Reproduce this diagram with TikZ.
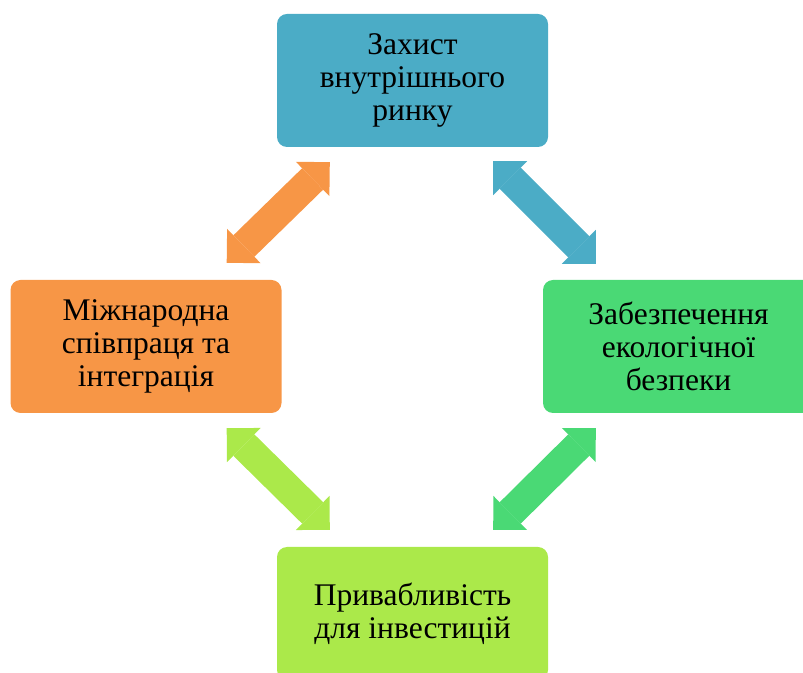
\documentclass[tikz,border=0pt]{standalone}
\usepackage{fontspec}
\setmainfont{Liberation Serif}
\usepackage{xcolor}
\usetikzlibrary{arrows.meta, positioning, calc}
\definecolor{tealC}{HTML}{4BACC6}
\definecolor{orangeC}{HTML}{F79646}
\definecolor{greenC}{HTML}{4AD975}
\definecolor{limeC}{HTML}{ABE94A}
\tikzset{
    block/.style={
        rectangle,
        rounded corners=10pt,
        minimum width=271pt,
        minimum height=133pt,
        align=center,
        inner sep=2pt,
        font=\fontsize{31.5}{33}\selectfont
    },
    dblarrow/.style={
        line width=30pt,
        {Triangle[width=48pt,length=24pt,line width=0pt]}-{Triangle[width=48pt,length=24pt,line width=0pt]}
    }
}
\begin{document}
\begin{tikzpicture}[x=1pt, y=1pt]
\useasboundingbox (0,0) rectangle (803,672);

% Boxes
\node[block, fill=tealC] (market) at (412.5,591.5) {Захист\\внутрішнього\\ринку};
\node[block, fill=orangeC] (coop) at (146,325.5) {Міжнародна\\співпраця та\\інтеграція};
\node[block, fill=greenC] (ecology) at (678.5,325.5) {Забезпечення\\екологічної\\безпеки};
\node[block, fill=limeC] (invest) at (412.5,58.5) {Привабливість\\для інвестицій};

% Connections
\draw[dblarrow, orangeC] ([xshift=-55pt,yshift=17pt]coop.north east) -- ([xshift=53pt,yshift=-15pt]market.south west);
\draw[dblarrow, tealC] ([xshift=-55pt,yshift=-14pt]market.south east) -- ([xshift=53pt,yshift=16pt]ecology.north west);
\draw[dblarrow, greenC] ([xshift=53pt,yshift=-15pt]ecology.south west) -- ([xshift=-55pt,yshift=17pt]invest.north east);
\draw[dblarrow, limeC] ([xshift=-55pt,yshift=-15pt]coop.south east) -- ([xshift=53pt,yshift=17pt]invest.north west);

\end{tikzpicture}
\end{document}
